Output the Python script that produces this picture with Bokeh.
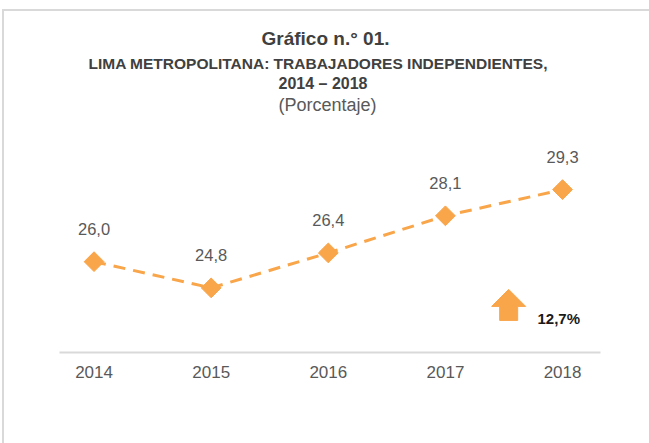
from bokeh.plotting import figure
from bokeh.models import Range1d, FixedTicker, Title, Label, PolyAnnotation, ColumnDataSource
from bokeh.core.properties import value
from bokeh.embed import file_html
from bokeh.resources import INLINE

# ---- data ----
years = ["2014", "2015", "2016", "2017", "2018"]
values = [26.0, 24.8, 26.4, 28.1, 29.3]
value_labels = ["26,0", "24,8", "26,4", "28,1", "29,3"]
growth_label = "12,7%"

title1 = "Gráfico n.° 01."
title2 = "LIMA METROPOLITANA: TRABAJADORES INDEPENDIENTES,"
title3 = "2014 – 2018"
title4 = "(Porcentaje)"

ORANGE = "#F9A54A"
FONT = "Liberation Sans"

xs = list(range(len(years)))

W, H = 645, 432
FL, FR, FT, FB = 55, 49, 103, 91  # frame borders
x0, x1 = -0.295, 4.324
y0, y1 = 21.84, 32.74

p = figure(width=W, height=H, output_backend="svg", toolbar_location=None,
           x_range=Range1d(x0, x1), y_range=Range1d(y0, y1),
           y_axis_location=None, tools="",
           min_border_left=FL, min_border_right=FR, min_border_top=FT, min_border_bottom=FB,
           margin=(11, 0, 0, 4))
p.styles = {"box-shadow": "0 0 0 2px #d9d9d9"}
p.outline_line_color = None
p.xgrid.visible = False
p.ygrid.visible = False
p.background_fill_color = "white"
p.border_fill_color = "white"

ax = p.xaxis[0]
ax.ticker = FixedTicker(ticks=xs)
ax.major_label_overrides = {i: y for i, y in zip(xs, years)}
ax.major_tick_line_color = None
ax.minor_tick_line_color = None
ax.major_tick_out = 0
ax.major_tick_in = 0
ax.axis_line_color = "#d9d9d9"
ax.axis_line_width = 2
ax.major_label_text_font = FONT
ax.major_label_text_font_size = "17px"
ax.major_label_text_color = "#595959"
ax.major_label_standoff = 13

# titles: added innermost first (left-aligned with offsets to centre them as in the original)
p.add_layout(Title(text=title4, align="left", offset=219, text_font=FONT, text_font_size="18px",
                   text_font_style="normal", text_color="#595959", standoff=0), "above")
p.add_layout(Title(text=title3, align="left", offset=219, text_font=FONT, text_font_size="16px",
                   text_font_style="bold", text_color="#404040", standoff=2), "above")
p.add_layout(Title(text=title2, align="left", offset=29, text_font=FONT, text_font_size="15.5px",
                   text_font_style="bold", text_color="#404040", standoff=-1), "above")
p.add_layout(Title(text=title1, align="left", offset=202, text_font=FONT, text_font_size="19px",
                   text_font_style="bold", text_color="#404040", standoff=10), "above")

# line and markers
src = ColumnDataSource(dict(x=xs, y=values, t=value_labels))
p.line("x", "y", source=src, line_color=ORANGE, line_width=3, line_dash="12 8")
p.scatter("x", "y", source=src, marker="square", angle=0.785398, size=14,
          fill_color=ORANGE, line_color=ORANGE)
p.text("x", "y", text="t", source=src, text_align="center", text_baseline="alphabetic",
       y_offset=-33, text_font_size="16.5px", text_color="#595959", text_font=value(FONT))

# growth arrow annotation
fw = W - FL - FR
fh = H - FT - FB
px_x = (x1 - x0) / fw
px_y = (y1 - y0) / fh
ax_c, ay_b = 3.54, 23.31   # arrow bottom-centre (data)
shaft, head, tot, headlen = 9, 17, 31, 17
axs = [ax_c - shaft * px_x, ax_c + shaft * px_x, ax_c + shaft * px_x, ax_c + head * px_x,
       ax_c, ax_c - head * px_x, ax_c - shaft * px_x]
ays = [ay_b, ay_b, ay_b + (tot - headlen) * px_y, ay_b + (tot - headlen) * px_y,
       ay_b + tot * px_y, ay_b + (tot - headlen) * px_y, ay_b + (tot - headlen) * px_y]
p.add_layout(PolyAnnotation(xs=axs, ys=ays, fill_color=ORANGE, fill_alpha=1,
                            line_color=ORANGE, line_alpha=1))
p.add_layout(Label(x=3.786, y=23.40, text=growth_label, text_font=FONT, text_font_size="15px",
                   text_font_style="bold", text_color="#1a1a1a", text_baseline="alphabetic"))

open("out.html", "w").write(file_html(p, INLINE))
